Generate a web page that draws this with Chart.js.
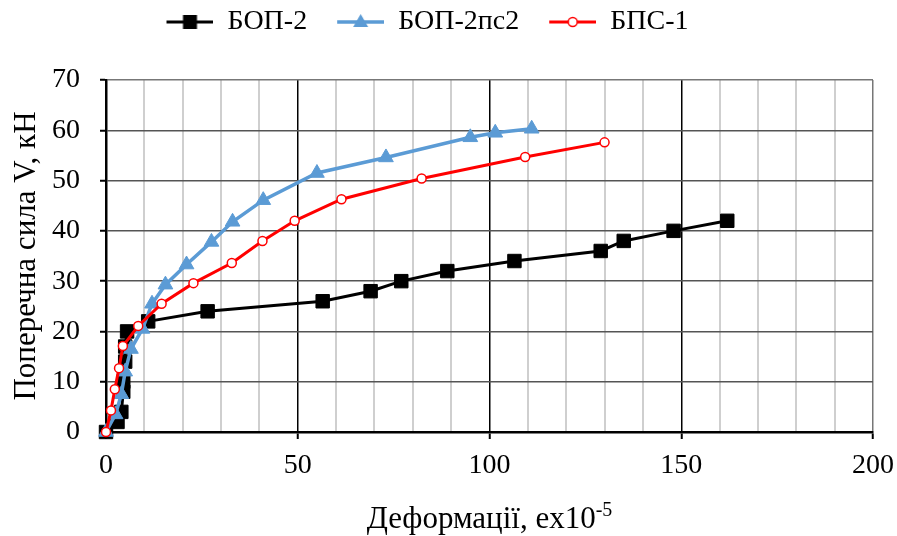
<!DOCTYPE html>
<html lang="uk">
<head>
<meta charset="UTF-8">
<title>Поперечна сила – деформації</title>
<script src="https://cdn.jsdelivr.net/npm/chart.js"></script>
<style>
  html, body { margin: 0; padding: 0; background: #fff; }
</style>
</head>
<body>
<canvas id="chart" width="897" height="536"></canvas>
<script>
// series
const seriesNames = ['БОП-2', 'БОП-2пс2', 'БПС-1'];

const bop2X = [0, 3, 4, 4.5, 4.5, 5, 5, 5.5, 11, 26.5, 56.5, 69, 77, 89, 106.5, 129, 135, 148, 162];
const bop2Y = [0, 2, 4, 8, 10, 14, 17, 20, 22, 24, 26, 28, 30, 32, 34, 36, 38, 40, 42];

const bop2ps2X = [0, 2.5, 4, 5, 6.5, 9.5, 12, 15.5, 21, 27.5, 33, 41, 55, 73, 95, 101.5, 111];
const bop2ps2Y = [0, 3.5, 7.5, 12, 16.5, 20.5, 25.5, 29.3, 33.3, 37.8, 41.8, 46.1, 51.5, 54.6, 58.6, 59.5, 60.3];

const bps1X = [0, 1.3, 2.3, 3.4, 4.4, 8.4, 14.5, 22.8, 32.8, 40.8, 49.2, 61.4, 82.3, 109.3, 130];
const bps1Y = [0, 4.3, 8.5, 12.7, 17.1, 21.1, 25.5, 29.6, 33.6, 38, 42, 46.3, 50.4, 54.7, 57.6];

const xTickLabels = [0, 50, 100, 150, 200];
const yTickLabels = [0, 10, 20, 30, 40, 50, 60, 70];

const yTitle = 'Поперечна сила V, кН';
const xTitle = 'Деформації, еx10';
const xTitleSup = '-5';

const FONT = '"Liberation Serif", "Times New Roman", serif';

function toPoints(xs, ys) {
    return xs.map((x, i) => ({ x: x, y: ys[i] }));
}

// little "line with marker" picture for the legend, Excel style
function legendSymbol(color, lineWidth, marker) {
    const c = document.createElement('canvas');
    c.width = 69;
    c.height = 20;
    const g = c.getContext('2d');
    g.strokeStyle = color;
    g.lineWidth = lineWidth;
    g.beginPath();
    g.moveTo(22, 10);
    g.lineTo(69, 10);
    g.stroke();
    const cx = 45.5, cy = 10;
    if (marker === 'rect') {
        g.fillStyle = color;
        g.fillRect(cx - 7, cy - 7, 14, 14);
    } else if (marker === 'triangle') {
        g.fillStyle = color;
        g.beginPath();
        g.moveTo(cx, cy - 8);
        g.lineTo(cx + 7.5, cy + 5);
        g.lineTo(cx - 7.5, cy + 5);
        g.closePath();
        g.fill();
    } else {
        g.fillStyle = '#fff';
        g.lineWidth = 1.5;
        g.beginPath();
        g.arc(cx, cy, 4.5, 0, Math.PI * 2);
        g.fill();
        g.stroke();
    }
    return c;
}

const legendIcons = [
    legendSymbol('#000000', 3, 'rect'),
    legendSymbol('#5b9bd5', 3.5, 'triangle'),
    legendSymbol('#ff0000', 3, 'circle')
];

// legend takes the whole strip above the plot, and is moved a bit left
const legendFix = {
    id: 'legendFix',
    beforeLayout(chart) {
        const lg = chart.legend;
        if (lg && !lg._patched) {
            const fit = lg.fit;
            lg.fit = function () {
                fit.call(this);
                this.height = 80;
            };
            lg._patched = true;
        }
    },
    afterLayout(chart) {
        const lg = chart.legend;
        if (lg) {
            lg.left -= 20;
            lg.right -= 20;
        }
    }
};

const axisTitles = {
    id: 'axisTitles',
    afterDraw(chart) {
        const ctx = chart.ctx;
        const area = chart.chartArea;
        ctx.save();
        ctx.fillStyle = '#000';
        ctx.font = '31px ' + FONT;

        // y title, rotated
        ctx.save();
        ctx.translate(35, (area.top + area.bottom) / 2);
        ctx.rotate(-Math.PI / 2);
        ctx.textAlign = 'center';
        ctx.textBaseline = 'alphabetic';
        ctx.fillText(yTitle, 0, 0);
        ctx.restore();

        // x title with superscript
        const mainW = ctx.measureText(xTitle).width;
        ctx.font = '20px ' + FONT;
        const supW = ctx.measureText(xTitleSup).width;
        const x0 = (area.left + area.right) / 2 - (mainW + supW) / 2;
        const base = 528;
        ctx.textAlign = 'left';
        ctx.textBaseline = 'alphabetic';
        ctx.font = '31px ' + FONT;
        ctx.fillText(xTitle, x0, base);
        ctx.font = '20px ' + FONT;
        ctx.fillText(xTitleSup, x0 + mainW, base - 12);
        ctx.restore();
    }
};

new Chart(document.getElementById('chart').getContext('2d'), {
    type: 'line',
    data: {
        datasets: [{
            label: seriesNames[0],
            data: toPoints(bop2X, bop2Y),
            borderColor: '#000000',
            backgroundColor: '#000000',
            borderWidth: 3,
            pointStyle: 'rect',
            pointRadius: 9.5,
            pointBorderWidth: 1,
            order: 3,
            clip: false
        }, {
            label: seriesNames[1],
            data: toPoints(bop2ps2X, bop2ps2Y),
            borderColor: '#5b9bd5',
            backgroundColor: '#5b9bd5',
            borderWidth: 3.5,
            pointStyle: 'triangle',
            pointRadius: 8.5,
            pointBorderWidth: 1,
            order: 2,
            clip: false
        }, {
            label: seriesNames[2],
            data: toPoints(bps1X, bps1Y),
            borderColor: '#ff0000',
            backgroundColor: '#ffffff',
            borderWidth: 3,
            pointStyle: 'circle',
            pointRadius: 4.5,
            pointBorderWidth: 1.5,
            order: 1,
            clip: false
        }]
    },
    options: {
        responsive: false,
        animation: false,
        devicePixelRatio: 1,
        layout: { padding: { left: 0, right: 24, top: 0, bottom: 0 } },
        plugins: {
            tooltip: { enabled: false },
            legend: {
                position: 'top',
                labels: {
                    usePointStyle: true,
                    pointStyleWidth: 69,
                    padding: 8,
                    color: '#000',
                    font: { family: FONT, size: 28 },
                    generateLabels(chart) {
                        return chart.data.datasets.map((ds, i) => ({
                            text: ds.label,
                            pointStyle: legendIcons[i],
                            fillStyle: ds.borderColor,
                            strokeStyle: ds.borderColor,
                            lineWidth: 0,
                            hidden: false,
                            datasetIndex: i
                        }));
                    }
                }
            }
        },
        scales: {
            x: {
                type: 'linear',
                min: 0,
                max: 200,
                afterFit(scale) {
                    scale.height = 104;
                    scale.paddingLeft = 0;
                    scale.paddingRight = 0;
                },
                ticks: {
                    stepSize: 10,
                    autoSkip: false,
                    maxRotation: 0,
                    padding: 10,
                    color: '#000',
                    font: { family: FONT, size: 28 },
                    callback: v => xTickLabels.includes(v) ? v : ''
                },
                grid: {
                    color: c => {
                        const v = c.tick ? c.tick.value : 0;
                        if (v === 200) return '#777777';
                        return v % 50 === 0 ? '#000000' : '#cfcfcf';
                    },
                    lineWidth: c => (c.tick && c.tick.value % 50 === 0) ? 1.5 : 2,
                    tickColor: c => (c.tick && xTickLabels.includes(c.tick.value)) ? '#000000' : 'rgba(0,0,0,0)',
                    tickLength: 7,
                    tickWidth: 2
                },
                border: { color: '#000000', width: 2.5 }
            },
            y: {
                type: 'linear',
                min: 0,
                max: 70,
                afterFit(scale) { scale.width = 106; },
                ticks: {
                    stepSize: 10,
                    padding: 20,
                    color: '#000',
                    font: { family: FONT, size: 28 },
                    callback: v => yTickLabels.includes(v) ? v : ''
                },
                grid: {
                    color: c => (c.tick && c.tick.value === 70) ? '#777777' : '#555555',
                    lineWidth: 1.5,
                    tickColor: '#000000',
                    tickLength: 6,
                    tickWidth: 2
                },
                border: { color: '#000000', width: 2.5 }
            }
        }
    },
    plugins: [legendFix, axisTitles]
});
</script>
</body>
</html>
